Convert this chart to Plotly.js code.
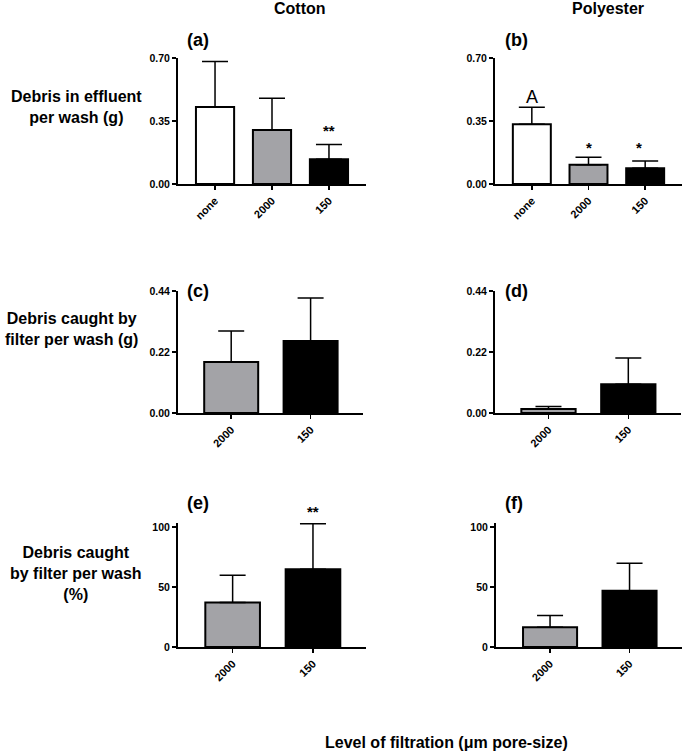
<!DOCTYPE html>
<html>
<head>
<meta charset="utf-8">
<script src="https://cdn.plot.ly/plotly-3.0.1.min.js"></script>
<style>
    body { margin: 0; background: #fff; }
    #chart { width: 683px; height: 753px; }
</style>
</head>
<body>
<div id="chart"></div>
<script>
// Categories (level of filtration)
const catsAll = ['none', '2000', '150'];
const catsFilter = ['2000', '150'];

// (a) cotton, debris in effluent per wash (g)
const cottonEffluent = [0.428, 0.300, 0.137];
const cottonEffluentSd = [0.252, 0.176, 0.083];
// (b) polyester, debris in effluent per wash (g)
const polyEffluent = [0.332, 0.107, 0.087];
const polyEffluentSd = [0.094, 0.041, 0.041];
// (c) cotton, caught by filter (g)
const cottonCaught = [0.184, 0.260];
const cottonCaughtSd = [0.112, 0.155];
// (d) polyester, caught by filter (g)
const polyCaught = [0.014, 0.104];
const polyCaughtSd = [0.009, 0.094];
// (e) cotton, caught by filter (%)
const cottonPct = [37.2, 64.8];
const cottonPctSd = [22.6, 38.0];
// (f) polyester, caught by filter (%)
const polyPct = [16.5, 46.9];
const polyPctSd = [9.8, 22.9];

const barColors = {'none': '#ffffff', '2000': '#a3a3a7', '150': '#000000'};
const FONT = 'Liberation Sans, Arial, sans-serif';

const W = 683, H = 753;
const px = x => x / W;
const py = y => 1 - y / H;

function barTrace(cats, vals, sd, n, width) {
    return {
        type: 'bar',
        x: cats,
        y: vals,
        width: width,
        xaxis: 'x' + n,
        yaxis: 'y' + n,
        marker: {
            color: cats.map(c => barColors[c]),
            line: {color: '#000', width: 2}
        },
        error_y: {
            type: 'data',
            symmetric: false,
            array: sd,
            arrayminus: sd.map(() => 0),
            color: '#000',
            thickness: 1.5,
            width: 13
        },
        hoverinfo: 'none',
        showlegend: false
    };
}

const data = [
    barTrace(catsAll, cottonEffluent, cottonEffluentSd, 1, 0.67),
    barTrace(catsAll, polyEffluent, polyEffluentSd, 2, 0.67),
    barTrace(catsFilter, cottonCaught, cottonCaughtSd, 3, 0.68),
    barTrace(catsFilter, polyCaught, polyCaughtSd, 4, 0.68),
    barTrace(catsFilter, cottonPct, cottonPctSd, 5, 0.68),
    barTrace(catsFilter, polyPct, polyPctSd, 6, 0.68)
];

function xAxis(x0, x1, range, n) {
    return {
        domain: [px(x0), px(x1)],
        anchor: 'y' + n,
        type: 'category',
        range: range,
        showline: true, linecolor: '#000', linewidth: 2,
        ticks: 'outside', ticklen: 4, tickwidth: 1.5, tickcolor: '#000',
        tickangle: -45,
        tickfont: {family: FONT, size: 11, color: '#000', weight: 'bold'},
        showgrid: false, zeroline: false, fixedrange: true
    };
}

function yAxis(top, bottom, range, tickvals, ticktext, n) {
    return {
        domain: [py(bottom), py(top)],
        anchor: 'x' + n,
        range: range,
        tickvals: tickvals,
        ticktext: ticktext,
        showline: true, linecolor: '#000', linewidth: 2,
        ticks: 'outside', ticklen: 4, tickwidth: 1.5, tickcolor: '#000',
        tickfont: {family: FONT, size: 10.5, color: '#000', weight: 'bold'},
        showgrid: false, zeroline: false, fixedrange: true
    };
}

function label(text, x, y, size, bold) {
    return {
        text: text, x: px(x), y: py(y), xref: 'paper', yref: 'paper',
        showarrow: false, xanchor: 'center', yanchor: 'middle',
        font: {family: FONT, size: size, color: '#000', weight: bold ? 'bold' : 'normal'}
    };
}

// significance marks sit over a category (by index, since '150' reads as a number), y in page pixels
function mark(text, n, cats, cat, y, size, bold, shift) {
    return {
        text: text, x: cats.indexOf(cat), y: py(y), xref: 'x' + n, yref: 'paper',
        xshift: shift || 0,
        showarrow: false, xanchor: 'center', yanchor: 'middle',
        font: {family: FONT, size: size, color: '#000', weight: bold ? 'bold' : 'normal'}
    };
}

const yTicks1 = [0, 0.35, 0.70], yText1 = ['0.00', '0.35', '0.70'];
const yTicks2 = [0, 0.22, 0.44], yText2 = ['0.00', '0.22', '0.44'];
const yTicks3 = [0, 50, 100], yText3 = ['0', '50', '100'];

const layout = {
    width: W, height: H,
    margin: {l: 0, r: 0, t: 0, b: 0},
    paper_bgcolor: '#fff', plot_bgcolor: '#fff',
    bargap: 0,
    xaxis: xAxis(178, 366, [-0.65, 2.65], 1),
    yaxis: yAxis(58, 184, [0, 0.70], yTicks1, yText1, 1),
    xaxis2: xAxis(495, 682, [-0.65, 2.65], 2),
    yaxis2: yAxis(58, 184, [0, 0.70], yTicks1, yText1, 2),
    xaxis3: xAxis(178, 363, [-0.67, 1.66], 3),
    yaxis3: yAxis(291, 413, [0, 0.44], yTicks2, yText2, 3),
    xaxis4: xAxis(495, 681, [-0.67, 1.66], 4),
    yaxis4: yAxis(291, 413, [0, 0.44], yTicks2, yText2, 4),
    xaxis5: xAxis(178, 366, [-0.68, 1.66], 5),
    yaxis5: yAxis(523, 647, [0, 103.5], yTicks3, yText3, 5),
    xaxis6: xAxis(496, 682, [-0.68, 1.66], 6),
    yaxis6: yAxis(523, 647, [0, 103.5], yTicks3, yText3, 6),
    annotations: [
        label('Cotton', 300, 9, 16, true),
        label('Polyester', 608, 9, 16, true),
        label('(a)', 198, 40, 18, true),
        label('(b)', 516, 40, 18, true),
        label('(c)', 198, 291, 18, true),
        label('(d)', 516, 291, 18, true),
        label('(e)', 198, 503, 18, true),
        label('(f)', 514, 503, 18, true),
        label('Debris in effluent<br>per wash (g)', 76, 107, 16, true),
        label('Debris caught by<br>filter per wash (g)', 71, 329, 16, true),
        label('Debris caught<br>by filter per wash<br>(%)', 76, 573, 16, true),
        label('Level of filtration (μm pore-size)', 446, 742, 16, true),
        mark('**', 1, catsAll, '150', 130, 15, true),
        mark('A', 2, catsAll, 'none', 97, 18, false),
        mark('*', 2, catsAll, '2000', 147, 15, true),
        mark('*', 2, catsAll, '150', 147, 15, true, -6),
        mark('**', 5, catsFilter, '150', 512, 15, true)
    ]
};

Plotly.newPlot('chart', data, layout, {displayModeBar: false, staticPlot: true});
</script>
</body>
</html>
